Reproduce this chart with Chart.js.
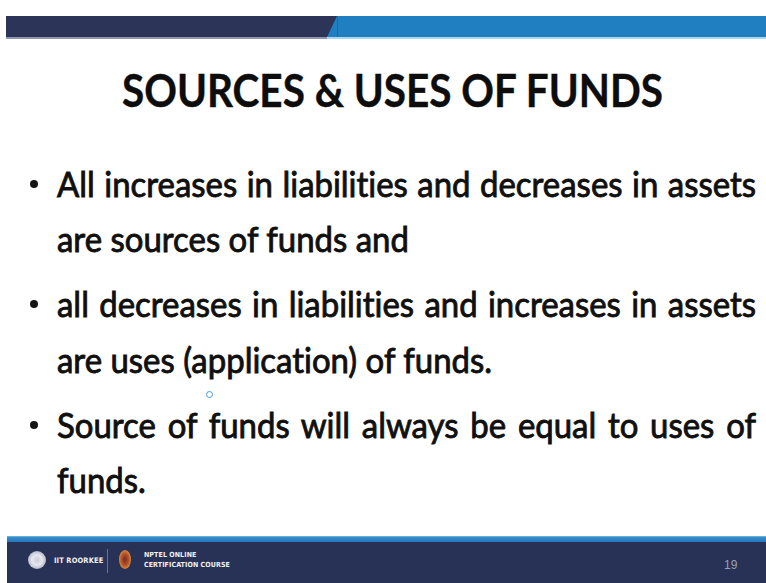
<!DOCTYPE html>
<html>
<head>
<meta charset="utf-8">
<script src="https://cdn.jsdelivr.net/npm/chart.js@4.4.1/dist/chart.umd.min.js"></script>
<style>
  html,body{margin:0;padding:0;background:#fff;}
  body{width:766px;height:583px;position:relative;overflow:hidden;font-family:Lato,"Open Sans",sans-serif;color:#101010;font-variant-ligatures:none;font-feature-settings:"liga" 0,"clig" 0;}
  #banner{position:absolute;left:6px;top:16px;width:760px;height:21px;}
  #bannerLine{position:absolute;left:6px;top:37px;width:760px;height:2px;background:linear-gradient(90deg,#8f97b3 0,#8f97b3 321px,#a9d8f0 321px);}
  #diag{position:absolute;left:327px;top:16px;width:0;height:0;border-style:solid;border-width:0 0 21px 10px;border-color:transparent transparent #1f7fc1 transparent;}
  .line{position:absolute;white-space:nowrap;transform-origin:0 0;line-height:1.2;}
  #title{font-weight:700;font-size:46px;color:#0d0d0d;-webkit-text-stroke:0.4px #0d0d0d;}
  .body{font-size:35px;font-weight:400;-webkit-text-stroke:0.9px #101010;}
  .just{text-align:justify;text-align-last:justify;white-space:normal;}
  .bullet{position:absolute;width:8px;height:8px;border-radius:50%;background:#151515;}
  #footer{position:absolute;left:7px;top:536px;width:759px;height:47px;background:#283156;}
  #fstripe{position:absolute;left:0;top:0;width:100%;height:6px;background:linear-gradient(180deg,#8fd0ee 0,#3b8fcc 1px,#2677bb 6px);}
  .ftxt{position:absolute;color:#f2f2f2;font-family:"Liberation Sans Narrow","DejaVu Sans Condensed",sans-serif;font-weight:700;font-size:7px;letter-spacing:0.1px;}
  #pnum{position:absolute;left:717px;top:22px;color:#9aa1b9;font-family:"Liberation Sans Narrow",sans-serif;font-size:12px;}
  #cursor{position:absolute;left:206px;top:391px;width:5px;height:5px;border:1.2px solid #4a9ad6;border-radius:50%;}
</style>
</head>
<body>
<canvas id="banner" width="760" height="21"></canvas>
<div id="diag"></div>
<div id="bannerLine"></div>

<div id="title" class="line"></div>
<div id="content"></div>
<div id="cursor"></div>

<div id="footer">
  <div id="fstripe"></div>
  <div style="position:absolute;left:21px;top:15px;width:18px;height:18px;border-radius:50%;background:radial-gradient(circle,#c9ccd6 0,#e6e8ee 40%,#aeb3c4 75%,#5b6283 100%);"></div>
  <div class="ftxt" style="left:47px;top:20px;font-size:7.5px;">IIT ROORKEE</div>
  <div style="position:absolute;left:100px;top:13px;width:1px;height:24px;background:#6a7190;"></div>
  <div style="position:absolute;left:112px;top:14px;width:12px;height:19px;border-radius:50%;background:radial-gradient(ellipse,#7b2a1e 0,#b5552b 45%,#d88a3c 70%,#283156 100%);"></div>
  <div class="ftxt" style="left:137px;top:15px;">NPTEL ONLINE</div>
  <div class="ftxt" style="left:137px;top:25px;">CERTIFICATION COURSE</div>
  <div id="pnum">19</div>
</div>

<script>
// ---- content data ----
const bannerLabels = ['banner'];
const bannerShares = [43.55, 56.45];        // navy / blue share of the header band (%)
const bannerColors = ['#2c3457', '#1f7fc1'];

const titleText = 'SOURCES & USES OF FUNDS';
const bulletLines = [
  ['All increases in liabilities and decreases in assets', 'are sources of funds and'],
  ['all decreases in liabilities and increases in assets', 'are uses (application) of funds.'],
  ['Source of funds will always be equal to uses of', 'funds.']
];

// ---- header band drawn with Chart.js ----
new Chart(document.getElementById('banner'), {
  type: 'bar',
  data: {
    labels: bannerLabels,
    datasets: bannerShares.map((v, i) => ({
      data: [v], backgroundColor: bannerColors[i], borderWidth: 0,
      barPercentage: 1, categoryPercentage: 1, borderSkipped: false
    }))
  },
  options: {
    indexAxis: 'y', responsive: false, maintainAspectRatio: false, animation: false,
    layout: { padding: 0 },
    plugins: { legend: { display: false }, tooltip: { enabled: false } },
    scales: {
      x: { stacked: true, display: false, min: 0, max: 100, grid: { display: false } },
      y: { stacked: true, display: false, grid: { display: false } }
    }
  }
});

// ---- text layout ----
const baselines = [[197, 252], [317, 373], [438, 493]];
const textLeft = 57, textRight = 756;

function baselineOffset(el) {
  const m = document.createElement('span');
  m.style.cssText = 'display:inline-block;width:0;height:0;vertical-align:baseline;';
  el.appendChild(m);
  const off = m.offsetTop;
  el.removeChild(m);
  return off;
}

// title
const t = document.getElementById('title');
t.textContent = titleText;
t.style.left = '0px'; t.style.top = '0px';
const tw = t.getBoundingClientRect().width;
const ts = 541 / tw;
t.style.transform = 'scaleX(' + ts + ')';
t.style.left = '122px';
t.style.top = (107 - baselineOffset(t)) + 'px';

// body: derive horizontal scale from an unjustified line
const content = document.getElementById('content');
const probe = document.createElement('div');
probe.className = 'line body';
probe.textContent = bulletLines[1][1];
content.appendChild(probe);
const pw = probe.getBoundingClientRect().width;
const bs = (492 - textLeft) / pw;
content.removeChild(probe);

bulletLines.forEach((para, pi) => {
  para.forEach((txt, li) => {
    const d = document.createElement('div');
    const isJust = li < para.length - 1;
    d.className = 'line body' + (isJust ? ' just' : '');
    d.textContent = txt;
    d.style.left = textLeft + 'px';
    d.style.top = '0px';
    if (isJust) d.style.width = ((textRight - textLeft) / bs) + 'px';
    d.style.transform = 'scaleX(' + bs + ')';
    content.appendChild(d);
    d.style.top = (baselines[pi][li] - baselineOffset(d)) + 'px';
  });
  const b = document.createElement('div');
  b.className = 'bullet';
  b.style.left = '30px';
  b.style.top = (baselines[pi][0] - 17) + 'px';
  content.appendChild(b);
});
</script>
</body>
</html>
